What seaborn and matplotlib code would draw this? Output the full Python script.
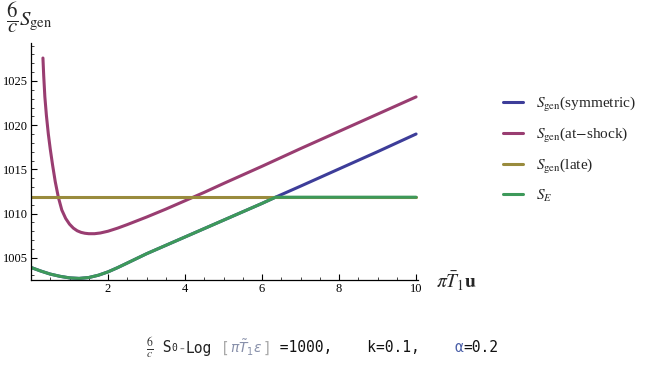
import numpy as np
import pandas as pd
import matplotlib
matplotlib.use("Agg")
import matplotlib.pyplot as plt
import seaborn as sns

# ---- data ----
x_se = [0.0, 0.25, 0.5, 0.75, 1.0, 1.25, 1.5, 1.75, 2.0, 2.25, 2.5, 3.0, 3.5, 4.0, 4.5,
        5.0, 5.5, 6.0, 6.35, 7.0, 8.0, 9.0, 10.0]
y_se = [1003.9, 1003.5, 1003.15, 1002.9, 1002.72, 1002.66, 1002.76, 1003.02, 1003.4,
        1003.88, 1004.4, 1005.45, 1006.4, 1007.35, 1008.3, 1009.25, 1010.2, 1011.15,
        1011.85, 1011.85, 1011.85, 1011.85, 1011.85]

x_sym = [0.0, 0.25, 0.5, 0.75, 1.0, 1.25, 1.5, 1.75, 2.0, 2.25, 2.5, 3.0, 3.5, 4.0, 4.5,
         5.0, 5.5, 6.0, 6.35, 7.0, 8.0, 9.0, 10.0]
y_sym = [1003.9, 1003.5, 1003.15, 1002.9, 1002.72, 1002.66, 1002.76, 1003.02, 1003.4,
         1003.88, 1004.4, 1005.45, 1006.4, 1007.35, 1008.3, 1009.25, 1010.2, 1011.15,
         1011.85, 1013.1, 1015.05, 1017.0, 1019.0]

x_shock = [0.31, 0.33, 0.36, 0.40, 0.45, 0.50, 0.56, 0.63, 0.71, 0.80, 0.90, 1.0, 1.1,
           1.2, 1.3, 1.4, 1.5, 1.65, 1.8, 2.0, 2.25, 2.5, 3.0, 3.5, 4.0, 4.5, 5.0,
           6.0, 7.0, 8.0, 9.0, 10.0]
y_shock = [1027.6, 1025.6, 1023.2, 1021.1, 1019.0, 1017.3, 1015.5, 1013.6, 1011.85,
           1010.4, 1009.45, 1008.8, 1008.35, 1008.05, 1007.87, 1007.77, 1007.72,
           1007.72, 1007.8, 1008.0, 1008.35, 1008.75, 1009.6, 1010.5, 1011.45, 1012.4,
           1013.4, 1015.35, 1017.35, 1019.3, 1021.25, 1023.2]

x_late = [0.0, 10.0]
y_late = [1011.85, 1011.85]

labels = [r"$S_{\mathrm{gen}}$(symmetric)", r"$S_{\mathrm{gen}}$(at$-$shock)",
          r"$S_{\mathrm{gen}}$(late)", r"$S_{E}$"]
colors = ["#3d3d99", "#993d71", "#998b3d", "#3d995a"]

xticks = [2, 4, 6, 8, 10]
yticks = [1005, 1010, 1015, 1020, 1025]

sns.set_theme(style="white")
plt.rcParams["font.family"] = ["Liberation Serif", "DejaVu Serif"]
plt.rcParams["mathtext.fontset"] = "stix"

fig = plt.figure(figsize=(6.54, 3.67), dpi=100)
ax = fig.add_axes([31 / 654, 1 - 280 / 367, (418 - 31) / 654, (280 - 43) / 367])

series = [(x_sym, y_sym), (x_shock, y_shock), (x_late, y_late), (x_se, y_se)]
for (xs, ys), lab, col in zip(series, labels, colors):
    df = pd.DataFrame({"x": xs, "y": ys})
    sns.lineplot(data=df, x="x", y="y", ax=ax, color=col, lw=2.2, label=lab,
                 sort=False, estimator=None)

ax.set_xlim(0, 10.05)
ax.set_ylim(1002.48, 1029.3)
ax.set_xlabel("")
ax.set_ylabel("")
ax.set_xticks(xticks)
ax.set_yticks(yticks)
ax.set_xticks(np.arange(0.5, 10.01, 0.5), minor=True)
ax.set_yticks(np.arange(1003, 1029.1, 1), minor=True)
ax.tick_params(axis="both", which="major", direction="in", length=4, width=0.8,
               labelsize=9, colors="black", pad=2)
ax.tick_params(axis="both", which="minor", direction="in", length=2, width=0.6)
ax.tick_params(axis="x", bottom=True, which="both")
ax.tick_params(axis="y", left=True, which="both")
for s in ["top", "right"]:
    ax.spines[s].set_visible(False)
for s in ["left", "bottom"]:
    ax.spines[s].set_color("black")
    ax.spines[s].set_linewidth(0.9)

# axis labels in Mathematica style
fig.text(436 / 654, 1 - 281 / 367, r"$\pi\bar{T}_1\mathbf{u}$", fontsize=14,
         ha="left", va="center")
fig.text(6 / 654, 1 - 17 / 367, r"$\dfrac{6}{c}S_{\mathrm{gen}}$", fontsize=15,
         ha="left", va="center")

leg = ax.legend(loc="upper left", bbox_to_anchor=(489 / 654, 1 - 81 / 367),
                bbox_transform=fig.transFigure, frameon=False, fontsize=11,
                handlelength=1.35, labelspacing=0.78, handletextpad=0.85)

# bottom annotation text, built from coloured segments
mono = "DejaVu Sans Mono"
frac = fig.text(146 / 654, 1 - 348 / 367, r"$\frac{6}{c}$", fontsize=12,
                ha="left", va="center", color="#333333")
segs = [(" S", "#222222", 10.5), ("0", "#222222", 7), ("-", "#888888", 10.5),
        ("Log", "#222222", 10.5), (" [", "#aaaaaa", 10.5),
        (r"$\pi\tilde{T}_1\epsilon$", "#8890aa", 10), ("]", "#aaaaaa", 10.5),
        (" =1000,    k=0.1,    ", "#111111", 10.5), ("α", "#4a5fa8", 10.5),
        ("=0.2", "#111111", 10.5)]
prev = frac
for txt, col, fs in segs:
    prev = ax.annotate(txt, xy=(1, 0.5), xycoords=prev, ha="left", va="center",
                       fontsize=fs, color=col, family=mono,
                       math_fontfamily="dejavusans", annotation_clip=False)

fig.savefig("out.png", dpi=100)
